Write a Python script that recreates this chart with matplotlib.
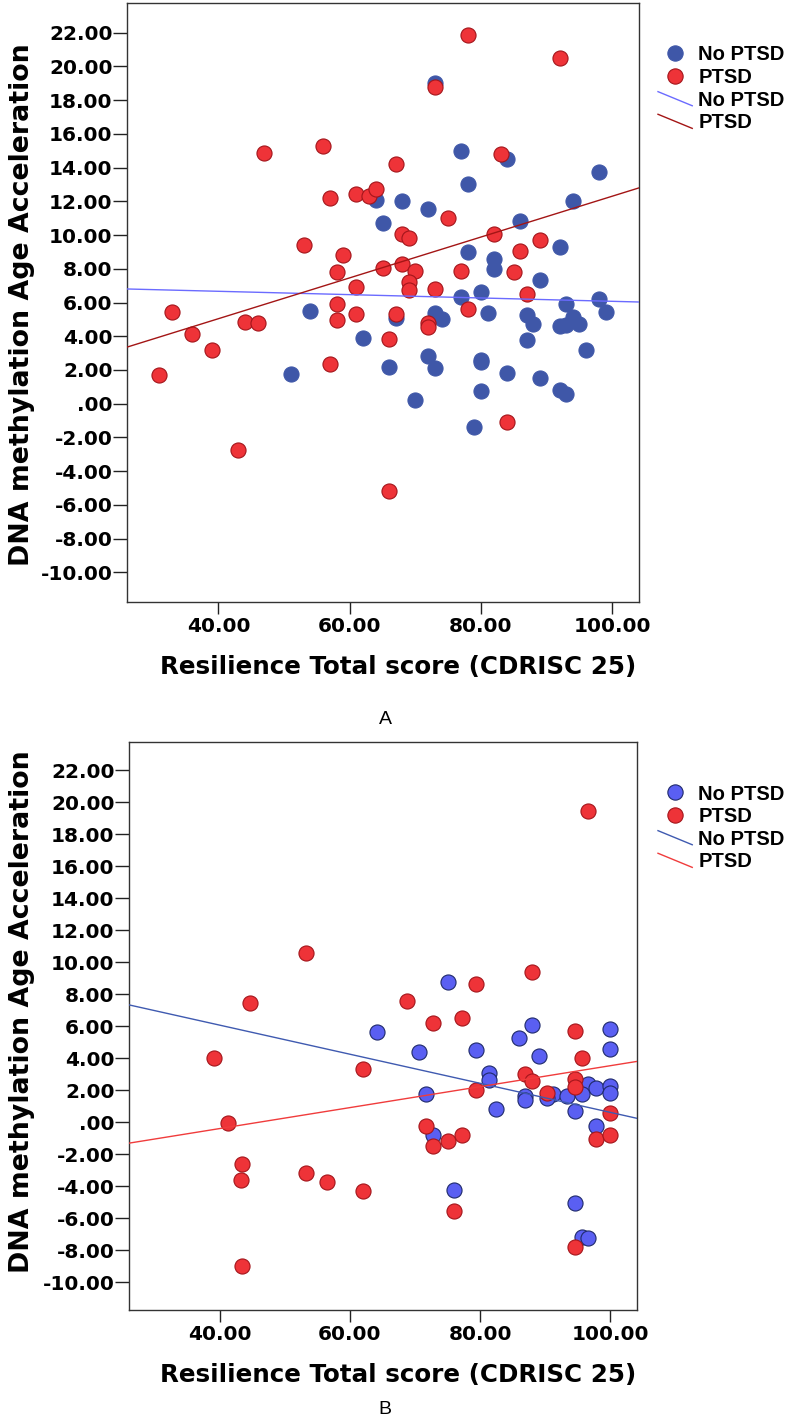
import matplotlib
matplotlib.use("Agg")
import matplotlib.pyplot as plt
import numpy as np
from matplotlib.legend_handler import HandlerLine2D
from matplotlib.lines import Line2D
from matplotlib.ticker import FixedLocator, FuncFormatter

plt.rcParams["axes.unicode_minus"] = False

# ---------------------------------------------------------------------------
# Panel A
# ---------------------------------------------------------------------------
A_NOPTSD_X = [73, 84, 77, 78, 98, 64, 68, 72, 65, 94, 86, 92, 78, 82, 82, 89,
              80, 77, 93, 98, 54, 51, 62, 67, 66, 73, 74, 72, 73, 70, 81, 80,
              80, 80, 79, 84, 87, 88, 87, 89, 92, 93, 94, 95, 99, 96, 92, 93]
A_NOPTSD_Y = [19.0, 14.5, 15.0, 13.0, 13.72, 12.1, 12.04, 11.55, 10.72, 12.04,
              10.85, 9.27, 8.98, 8.58, 8.0, 7.32, 6.62, 6.35, 5.89, 6.19, 5.51,
              1.77, 3.89, 5.07, 2.19, 5.37, 5.03, 2.8, 2.11, 0.23, 5.37, 2.6,
              2.46, 0.78, -1.35, 1.81, 5.25, 4.72, 3.8, 1.55, 4.62, 4.68, 5.17,
              4.75, 5.43, 3.19, 0.82, 0.55]
A_PTSD_X = [78, 92, 73, 47, 56, 67, 83, 57, 61, 63, 64, 75, 68, 69, 82, 89,
            53, 59, 86, 58, 65, 68, 70, 77, 85, 69, 69, 61, 73, 87, 58, 33,
            36, 39, 31, 44, 46, 43, 58, 61, 57, 67, 66, 66, 78, 72, 72, 84]
A_PTSD_Y = [21.86, 20.48, 18.8, 14.87, 15.26, 14.23, 14.8, 12.22, 12.45, 12.3,
            12.71, 11.0, 10.08, 9.85, 10.04, 9.69, 9.43, 8.84, 9.04, 7.79, 8.05,
            8.28, 7.87, 7.87, 7.79, 7.21, 6.76, 6.9, 6.78, 6.49, 5.93, 5.41,
            4.12, 3.17, 1.71, 4.87, 4.81, -2.75, 4.95, 5.33, 2.38, 5.33, 3.85,
            -5.17, 5.6, 4.81, 4.54, -1.11]
# fit lines: (intercept, slope)
A_FIT_NOPTSD = (7.06, -0.0099)
A_FIT_PTSD = (0.20, 0.121)

# ---------------------------------------------------------------------------
# Panel B
# ---------------------------------------------------------------------------
B_NOPTSD_X = [75, 64.1, 88, 85.9, 99.9, 99.9, 70.6, 79.3, 89.1, 81.4, 81.4,
              96.6, 97.8, 99.9, 99.9, 71.7, 91.25, 90.2, 86.9, 86.9, 93.4,
              95.6, 82.5, 94.5, 72.8, 97.8, 76, 94.5, 95.6, 96.6]
B_NOPTSD_Y = [8.74, 5.61, 6.07, 5.27, 5.84, 4.54, 4.37, 4.5, 4.14, 3.05, 2.65,
              2.35, 2.1, 2.27, 1.81, 1.75, 1.77, 1.47, 1.64, 1.37, 1.64, 1.72,
              0.8, 0.7, -0.84, -0.25, -4.24, -5.05, -7.19, -7.28]
B_PTSD_X = [96.6, 53.3, 79.3, 88, 44.6, 68.75, 72.8, 77.15, 94.5, 95.6, 39.2,
            62, 86.9, 88, 94.5, 94.5, 79.3, 90.2, 99.9, 41.3, 71.7, 75, 77.15,
            72.8, 97.8, 99.9, 43.5, 43.2, 53.3, 56.5, 62, 76, 94.5, 43.5]
B_PTSD_Y = [19.44, 10.58, 8.65, 9.35, 7.41, 7.56, 6.2, 6.49, 5.67, 4.03, 3.97,
            3.3, 3.03, 2.56, 2.71, 2.17, 2.02, 1.83, 0.59, -0.08, -0.25, -1.19,
            -0.81, -1.53, -1.05, -0.84, -2.64, -3.63, -3.19, -3.73, -4.34,
            -5.54, -7.84, -9.02]
B_FIT_NOPTSD = (9.69, -0.0909)
B_FIT_PTSD = (-3.03, 0.0655)

X_TICKS = [40, 60, 80, 100]
Y_TICKS = list(range(-10, 23, 2))
LEGEND_LABELS = ["No PTSD", "PTSD", "No PTSD", "PTSD"]
X_LABEL = "Resilience Total score (CDRISC 25)"
Y_LABEL = "DNA methylation Age Acceleration"
PANEL_LETTERS = ["A", "B"]

XLIM = (26, 104)
YLIM = (-11.75, 23.75)

RED_FILL = "#ee3338"
RED_EDGE = "#a3151b"

STYLE_A = dict(blue_fill="#3f57a8", blue_edge="#3f57a8",
               line_blue="#6b6bff", line_red="#a31515")
STYLE_B = dict(blue_fill="#5a5ff2", blue_edge="#1f2a6b",
               line_blue="#3f5ab0", line_red="#f03c3c")

TICK_FONT = dict(family="DejaVu Sans", weight="bold", size=14.5)
XLABEL_FONT = dict(family="DejaVu Sans", weight="bold", size=17.7)
YLABEL_FONT = dict(family="DejaVu Sans", weight="bold", size=19.3)


class HandlerDiagonal(HandlerLine2D):
    """SPSS-style legend key: a short falling diagonal line."""

    def create_artists(self, legend, orig_handle, xdescent, ydescent,
                       width, height, fontsize, trans):
        line = Line2D([-xdescent, width - xdescent],
                      [height - ydescent, -ydescent])
        self.update_prop(line, orig_handle, legend)
        line.set_transform(trans)
        return [line]


def _tick_fmt(v, _pos):
    s = f"{v:.2f}"
    if s == "0.00":
        return ".00"
    return s


def draw_panel(fig, ax, nx, ny, px, py, fit_n, fit_p, style, legend_top,
               xlabel_y, ylabel_xy):
    ax.scatter(nx, ny, s=118, color=style["blue_fill"],
               edgecolors=style["blue_edge"], linewidths=0.8, zorder=2)
    ax.scatter(px, py, s=118, color=RED_FILL, edgecolors=RED_EDGE,
               linewidths=0.8, zorder=3)

    xs = np.array(XLIM, dtype=float)
    ax.plot(xs, fit_n[0] + fit_n[1] * xs, color=style["line_blue"], lw=1.0,
            zorder=4)
    ax.plot(xs, fit_p[0] + fit_p[1] * xs, color=style["line_red"], lw=1.0,
            zorder=4)

    ax.set_xlim(*XLIM)
    ax.set_ylim(*YLIM)
    ax.xaxis.set_major_locator(FixedLocator(X_TICKS))
    ax.yaxis.set_major_locator(FixedLocator(Y_TICKS))
    ax.xaxis.set_major_formatter(FuncFormatter(_tick_fmt))
    ax.yaxis.set_major_formatter(FuncFormatter(_tick_fmt))
    ax.tick_params(axis="y", direction="out", length=10, width=1.0, pad=0,
                   color="#222222")
    ax.tick_params(axis="x", direction="out", length=8.5, width=1.0, pad=2,
                   color="#222222")
    for lab in ax.get_xticklabels() + ax.get_yticklabels():
        lab.set_fontfamily(TICK_FONT["family"])
        lab.set_fontweight(TICK_FONT["weight"])
        lab.set_fontsize(TICK_FONT["size"])
    for sp in ax.spines.values():
        sp.set_color("#333333")
        sp.set_linewidth(1.0)

    ax.set_xlabel(X_LABEL, **XLABEL_FONT)
    ax.xaxis.set_label_coords(0.53, xlabel_y)
    ax.set_ylabel(Y_LABEL, **YLABEL_FONT)
    ax.yaxis.set_label_coords(*ylabel_xy)

    handles = [
        Line2D([], [], ls="none", marker="o", markersize=11,
               markerfacecolor=style["blue_fill"],
               markeredgecolor=style["blue_edge"], markeredgewidth=0.8),
        Line2D([], [], ls="none", marker="o", markersize=11,
               markerfacecolor=RED_FILL, markeredgecolor=RED_EDGE,
               markeredgewidth=0.8),
        Line2D([], [], color=style["line_blue"], lw=1.0),
        Line2D([], [], color=style["line_red"], lw=1.0),
    ]
    fig.legend(handles, LEGEND_LABELS, loc="upper left",
               bbox_to_anchor=(658 / 790, 1 - legend_top / 1423),
               bbox_transform=fig.transFigure, frameon=False,
               borderpad=0, borderaxespad=0, handlelength=1.7,
               handletextpad=0.3, labelspacing=0.18, numpoints=1,
               handler_map={handles[2]: HandlerDiagonal(),
                            handles[3]: HandlerDiagonal()},
               prop=dict(family="Liberation Sans", weight="bold", size=14.5))


def main():
    fig = plt.figure(figsize=(7.9, 14.23), dpi=100)
    W, H = 790, 1423
    ax_a = fig.add_axes([126.5 / W, 1 - 602 / H, 512 / W, 599 / H])
    ax_b = fig.add_axes([128.5 / W, 1 - 1310 / H, 508 / W, 568 / H])

    draw_panel(fig, ax_a, A_NOPTSD_X, A_NOPTSD_Y, A_PTSD_X, A_PTSD_Y,
               A_FIT_NOPTSD, A_FIT_PTSD, STYLE_A, legend_top=45.5,
               xlabel_y=-0.088, ylabel_xy=(-0.179, 0.497))
    draw_panel(fig, ax_b, B_NOPTSD_X, B_NOPTSD_Y, B_PTSD_X, B_PTSD_Y,
               B_FIT_NOPTSD, B_FIT_PTSD, STYLE_B, legend_top=784.5,
               xlabel_y=-0.093, ylabel_xy=(-0.184, 0.525))

    fig.text(385 / W, 1 - 720 / H, PANEL_LETTERS[0], ha="center",
             va="center", family="Liberation Sans", size=14)
    fig.text(385 / W, 1 - 1410 / H, PANEL_LETTERS[1], ha="center",
             va="center", family="Liberation Sans", size=14)

    fig.savefig("out.png", dpi=100)
    plt.close(fig)


if __name__ == "__main__":
    main()
